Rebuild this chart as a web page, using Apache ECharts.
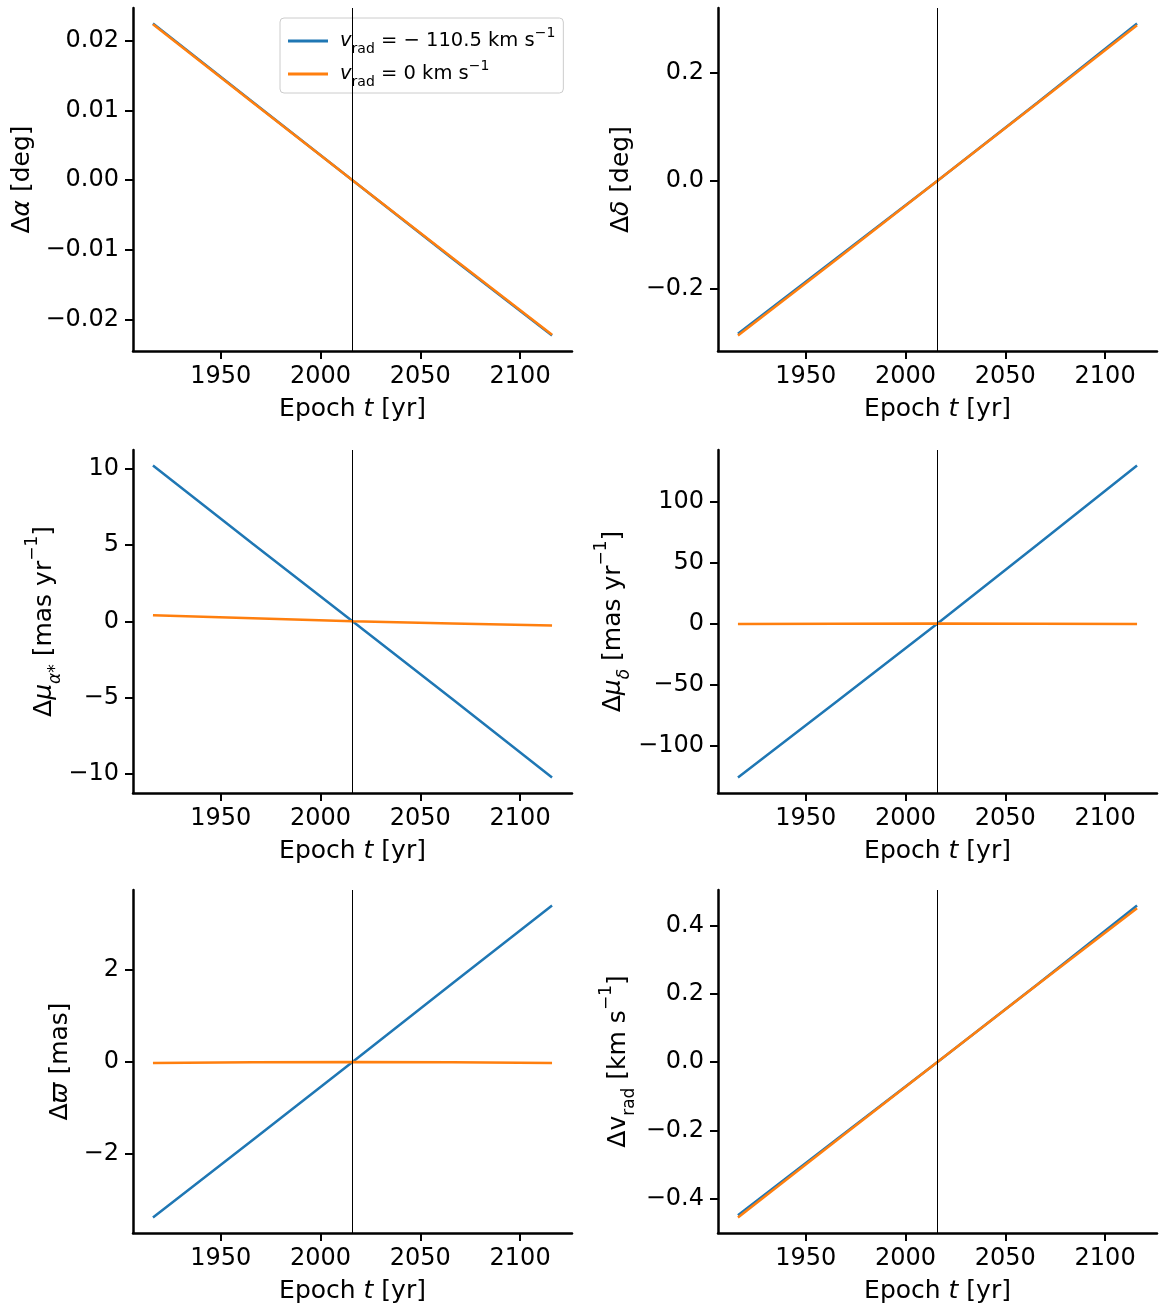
<!DOCTYPE html>
<html>
<head>
<meta charset="utf-8">
<script src="https://cdn.jsdelivr.net/npm/echarts@6/dist/echarts.min.js"></script>
<style>
  html, body { margin: 0; padding: 0; background: #fff; }
  #chart { width: 1166px; height: 1315px; }
</style>
</head>
<body>
<div id="chart"></div>
<script>
// epochs (yr)
const epochs = [1916, 1966, 2016, 2066, 2116];
const refEpoch = 2016;
const xTicks = [1950, 2000, 2050, 2100];

// delta alpha [deg]
const dRaFast = [0.0224, 0.0112, 0, -0.0112, -0.0222];
const dRaZero = [0.0223, 0.0111, 0, -0.0111, -0.0221];
// delta delta [deg]
const dDecFast = [-0.284, -0.142, 0, 0.145, 0.292];
const dDecZero = [-0.287, -0.144, 0, 0.144, 0.289];
// delta mu_alpha* [mas/yr]
const dPmraFast = [10.23, 5.1, 0, -5.1, -10.25];
const dPmraZero = [0.40, 0.20, 0, -0.14, -0.27];
// delta mu_delta [mas/yr]
const dPmdecFast = [-126.2, -63.3, 0, 64.6, 129.5];
const dPmdecZero = [-0.5, -0.1, 0, -0.1, -0.5];
// delta parallax [mas]
const dPlxFast = [-3.37, -1.69, 0, 1.70, 3.39];
const dPlxZero = [-0.02, -0.005, 0, -0.005, -0.02];
// delta v_rad [km/s]
const dVradFast = [-0.449, -0.224, 0, 0.227, 0.458];
const dVradZero = [-0.455, -0.227, 0, 0.226, 0.450];

// y tick labels
const raTicks = [-0.02, -0.01, 0, 0.01, 0.02];
const decTicks = [-0.2, 0, 0.2];
const pmraTicks = [-10, -5, 0, 5, 10];
const pmdecTicks = [-100, -50, 0, 50, 100];
const plxTicks = [-2, 0, 2];
const vradTicks = [-0.4, -0.2, 0, 0.2, 0.4];

const FONT = 'DejaVu Sans';
const BLUE = '#1f77b4';
const ORANGE = '#ff7f0e';

const labelRich = {
  n: { fontFamily: FONT, fontSize: 25, color: '#000', lineHeight: 32 },
  i: { fontFamily: FONT, fontSize: 25, fontStyle: 'italic', color: '#000', lineHeight: 32 },
  sub: { fontFamily: FONT, fontSize: 17, color: '#000', verticalAlign: 'bottom', lineHeight: 28 },
  subi: { fontFamily: FONT, fontSize: 17, fontStyle: 'italic', color: '#000', verticalAlign: 'bottom', lineHeight: 28 },
  sup: { fontFamily: FONT, fontSize: 17, color: '#000', verticalAlign: 'top', lineHeight: 40 }
};

const panels = [
  { fast: dRaFast, zero: dRaZero, ticks: raTicks, dec: 2, gap: 95,
    name: '{n|Δ}{i|α}{n| [deg]}' },
  { fast: dDecFast, zero: dDecZero, ticks: decTicks, dec: 1, gap: 81,
    name: '{n|Δ}{i|δ}{n| [deg]}' },
  { fast: dPmraFast, zero: dPmraZero, ticks: pmraTicks, dec: 0, gap: 69,
    name: '{n|Δ}{i|μ}{subi|α}{sub|*}{n| [mas yr}{sup|−1}{n|]}' },
  { fast: dPmdecFast, zero: dPmdecZero, ticks: pmdecTicks, dec: 0, gap: 85,
    name: '{n|Δ}{i|μ}{subi|δ}{n| [mas yr}{sup|−1}{n|]}' },
  { fast: dPlxFast, zero: dPlxZero, ticks: plxTicks, dec: 0, gap: 57,
    name: '{n|Δ}{i|ϖ}{n| [mas]}' },
  { fast: dVradFast, zero: dVradZero, ticks: vradTicks, dec: 1, gap: 80,
    name: '{n|Δv}{sub|rad}{n| [km s}{sup|−1}{n|]}' }
];

const lefts = [133, 718];
const tops = [8, 450, 890];
const W = 439, H = 343;

function fmt(v, d) {
  let s = v.toFixed(d);
  if (parseFloat(s) === 0) s = (0).toFixed(d);
  return s.replace('-', '\u2212');
}

const grid = [], xAxis = [], yAxis = [], series = [];

panels.forEach((p, k) => {
  const col = k % 2, row = Math.floor(k / 2);
  grid.push({ left: lefts[col], top: tops[row], width: W, height: H });

  const xPad = 0.05 * (epochs[epochs.length - 1] - epochs[0]);
  const all = p.fast.concat(p.zero);
  const lo = Math.min.apply(null, all), hi = Math.max.apply(null, all);
  const yPad = 0.05 * (hi - lo);

  xAxis.push({
    gridIndex: k, type: 'value',
    min: epochs[0] - xPad, max: epochs[epochs.length - 1] + xPad,
    name: '{n|Epoch }{i|t}{n| [yr]}',
    nameLocation: 'middle', nameGap: 42,
    nameTextStyle: { rich: labelRich, verticalAlign: 'top' },
    axisLine: { onZero: false, lineStyle: { color: '#000', width: 2.5 } },
    axisTick: { show: true, inside: false, length: 8, customValues: xTicks,
      lineStyle: { color: '#000', width: 2 } },
    axisLabel: { customValues: xTicks, margin: 14, fontFamily: FONT, fontSize: 24, color: '#000',
      formatter: v => String(v) },
    splitLine: { show: false }
  });

  yAxis.push({
    gridIndex: k, type: 'value',
    min: lo - yPad, max: hi + yPad,
    name: p.name, nameLocation: 'middle', nameRotate: 90, nameGap: p.gap,
    nameTextStyle: { rich: labelRich },
    axisLine: { show: true, onZero: false, lineStyle: { color: '#000', width: 2.5 } },
    axisTick: { show: true, inside: false, length: 8, customValues: p.ticks,
      lineStyle: { color: '#000', width: 2 } },
    axisLabel: { customValues: p.ticks, margin: 14, fontFamily: FONT, fontSize: 24, color: '#000',
      formatter: v => fmt(v, p.dec) },
    splitLine: { show: false }
  });

  series.push({
    name: 'fast', type: 'line', xAxisIndex: k, yAxisIndex: k,
    data: epochs.map((t, i) => [t, p.fast[i]]),
    symbol: 'none', color: BLUE, lineStyle: { color: BLUE, width: 2.5 },
    z: 3,
    markLine: {
      silent: true, symbol: 'none', label: { show: false },
      lineStyle: { color: '#000', width: 1, type: 'solid' },
      data: [{ xAxis: refEpoch }]
    }
  });
  series.push({
    name: 'zero', type: 'line', xAxisIndex: k, yAxisIndex: k,
    data: epochs.map((t, i) => [t, p.zero[i]]),
    symbol: 'none', color: ORANGE, lineStyle: { color: ORANGE, width: 2.5 },
    z: 4
  });
});

const legendRich = {
  n: { fontFamily: FONT, fontSize: 19.5, color: '#000', lineHeight: 26 },
  i: { fontFamily: FONT, fontSize: 19.5, fontStyle: 'italic', color: '#000', lineHeight: 26 },
  sub: { fontFamily: FONT, fontSize: 14, color: '#000', verticalAlign: 'bottom', lineHeight: 22 },
  sup: { fontFamily: FONT, fontSize: 14, color: '#000', verticalAlign: 'top', lineHeight: 30 }
};

const myChart = echarts.init(document.getElementById('chart'), null, { renderer: 'canvas' });
myChart.setOption({
  backgroundColor: '#fff',
  animation: false,
  grid: grid,
  xAxis: xAxis,
  yAxis: yAxis,
  legend: {
    data: ['fast', 'zero'],
    orient: 'vertical',
    left: 280, top: 18,
    padding: [8, 8, 4, 8],
    itemGap: 3,
    icon: 'rect',
    itemWidth: 40, itemHeight: 3,
    backgroundColor: 'rgba(255,255,255,0.8)',
    borderColor: '#ccc', borderWidth: 1, borderRadius: 4,
    textStyle: { rich: legendRich, padding: [0, 0, 0, 7] },
    formatter: n => n === 'fast'
      ? '{i|v}{sub|rad}{n| = − 110.5 km s}{sup|−1}'
      : '{i|v}{sub|rad}{n| = 0 km s}{sup|−1}'
  },
  series: series
});
window.addEventListener('resize', () => { myChart.resize(); });
</script>
</body>
</html>
